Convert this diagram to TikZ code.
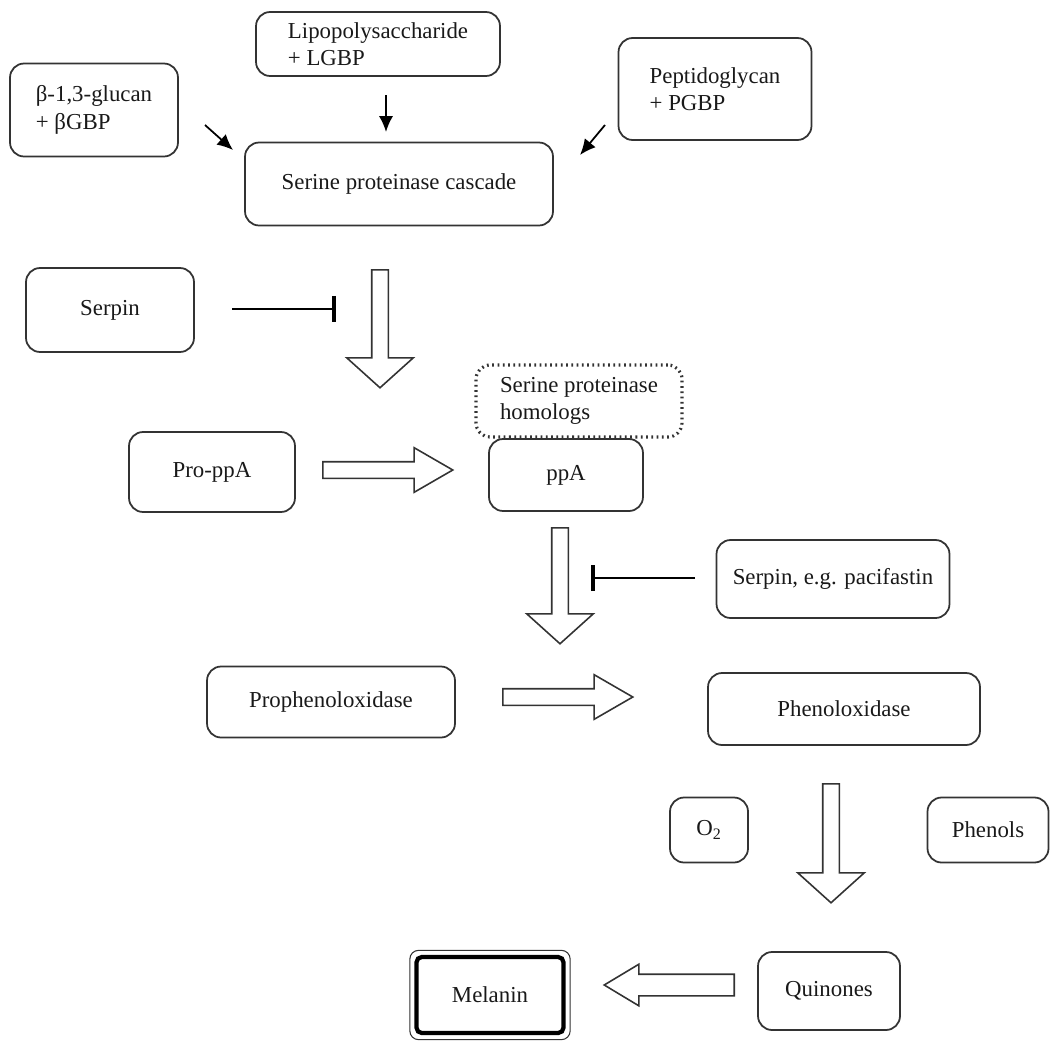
\documentclass[tikz,border=0pt]{standalone}
\usepackage{fontspec}
\setmainfont{Liberation Serif}
\usetikzlibrary{arrows.meta,shapes.arrows}

\begin{document}
\begin{tikzpicture}[x=0.02cm,y=-0.02cm,
  every node/.style={font=\fontsize{13}{15.5}\selectfont,text=black!90},
  box/.style={draw=black!80,line width=1pt,rounded corners=8pt,align=left},
  fat/.style={single arrow,draw=black!80,line width=0.9pt,fill=white,
    inner xsep=0pt,inner ysep=0.15cm,minimum width=1pt,anchor=tail},
  fatdown/.style={fat,rotate=-90,single arrow head extend=0.5cm,single arrow tip angle=96},
  fatfwd/.style={fat,single arrow head extend=0.28cm,single arrow tip angle=60},
  fatback/.style={fat,rotate=180,inner ysep=0.2cm,single arrow head extend=0.2cm,single arrow tip angle=62},
  pin/.style={-{Latex[length=9pt,width=8pt]},line width=1pt},
  inhib/.style={-{Bar[width=15pt,line width=2pt]},line width=1.6pt}]
  \useasboundingbox (0,0) rectangle (1051,1041);

  \node[box,minimum width=3.36cm,minimum height=1.86cm] (glu) at (94,110) {β-1,3-glucan\\+ βGBP};
  \node[box,minimum width=4.88cm,minimum height=1.28cm] (lps) at (378,44) {Lipopolysaccharide\\+ LGBP};
  \node[box,minimum width=3.86cm,minimum height=2.04cm] (pgn) at (715,89) {Peptidoglycan\\+ PGBP};
  \node[box,minimum width=6.16cm,minimum height=1.66cm] (casc) at (399,184) {Serine proteinase cascade};
  \node[box,minimum width=3.36cm,minimum height=1.68cm] (serpa) at (110,310) {Serpin};
  \node[box,dotted,line width=1.8pt,minimum width=4.12cm,minimum height=1.44cm] (hom) at (579,401) {Serine proteinase\\homologs};
  \node[box,minimum width=3.32cm,minimum height=1.6cm] (proppa) at (212,472) {Pro-ppA};
  \node[box,minimum width=3.08cm,minimum height=1.44cm] (ppa) at (566,475) {ppA};
  \node[box,minimum width=4.66cm,minimum height=1.56cm] (serpb) at (833,579) {Serpin, e.g. pacifastin};
  \node[box,minimum width=4.96cm,minimum height=1.42cm] (propo) at (331,702) {Prophenoloxidase};
  \node[box,minimum width=5.44cm,minimum height=1.44cm] (po) at (844,709) {Phenoloxidase};
  \node[box,minimum width=1.56cm,minimum height=1.3cm] (otwo) at (709,830) {O\textsubscript{2}};
  \node[box,minimum width=2.42cm,minimum height=1.3cm] (phen) at (988,830) {Phenols};
  \node[box,minimum width=2.84cm,minimum height=1.56cm] (quin) at (829,991) {Quinones};
  \node[draw=black,line width=2.4pt,rounded corners=3pt,minimum width=2.94cm,minimum height=1.52cm] (mel) at (490,995) {Melanin};
  \draw[black!80,line width=0.6pt,rounded corners=5pt] ([shift={(-2.6pt,2.6pt)}]mel.north west) rectangle ([shift={(2.6pt,-2.6pt)}]mel.south east);

  \coordinate (g1) at (205,125);
  \coordinate (g2) at (233,150);
  \coordinate (l1) at (386,95);
  \coordinate (l2) at (386,132);
  \coordinate (p1) at (605,125);
  \coordinate (p2) at (580,155);
  \draw[pin] (g1) -- (g2);
  \draw[pin] (l1) -- (l2);
  \draw[pin] (p1) -- (p2);

  \coordinate (s1) at (232,309);
  \coordinate (s2) at (336,309);
  \coordinate (e1) at (695,578);
  \coordinate (e2) at (591,578);
  \draw[inhib] (s1) -- (s2);
  \draw[inhib] (e1) -- (e2);

  \node[fatdown,minimum height=2.36cm] (a1) at (380,269) {};
  \node[fatfwd,minimum height=2.6cm] (a2) at (322,470) {};
  \node[fatdown,minimum height=2.32cm] (a3) at (560,527) {};
  \node[fatfwd,minimum height=2.6cm] (a4) at (502,697) {};
  \node[fatdown,minimum height=2.38cm] (a5) at (831,783) {};
  \node[fatback,minimum height=2.6cm] (a6) at (735,985) {};
\end{tikzpicture}
\end{document}
